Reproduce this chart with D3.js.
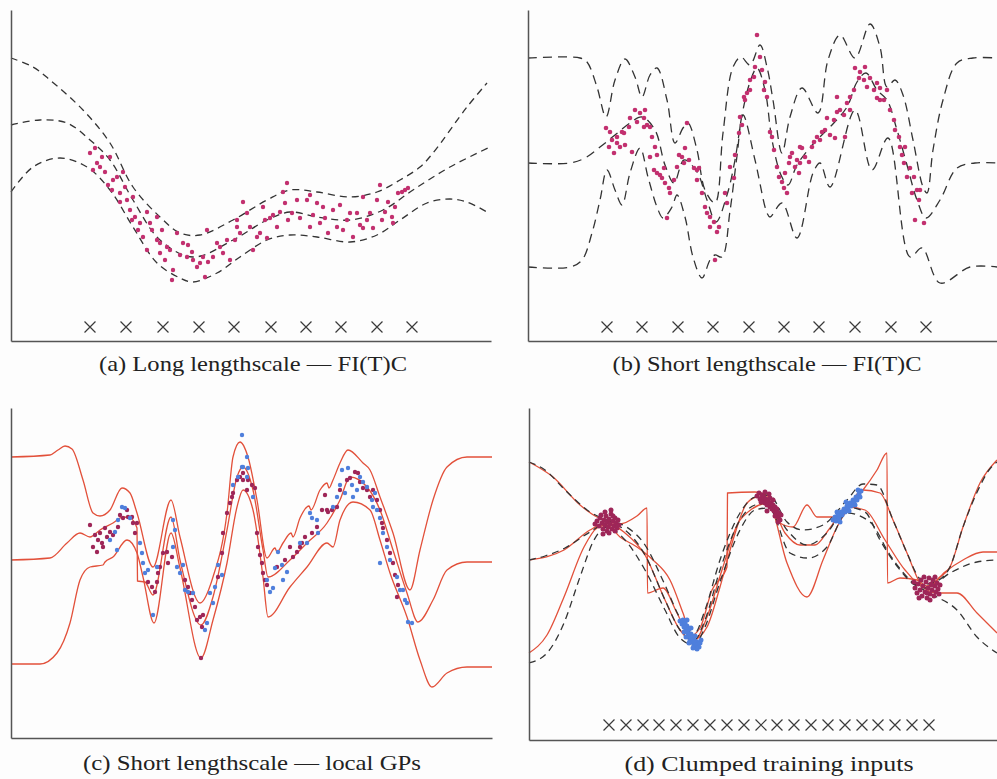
<!DOCTYPE html>
<html>
<head>
<meta charset="utf-8">
<script src="https://cdn.jsdelivr.net/npm/d3@7"></script>
<style>
  body { margin: 0; background: #fdfdfd; }
  svg { display: block; }
</style>
</head>
<body>
<svg width="997" height="779"></svg>
<script>

// (a) long lengthscale, FI(T)C
const aMean = [[0,216],[29,221],[56,218],[79,201],[99,181],[122,141],[149,101],[182,84],[222,101],[256,121],[279,129],[306,124],[339,121],[372,131],[402,151],[439,174],[479,194]];
const aUpper = [[0,283],[22,274],[39,261],[72,231],[99,198],[122,154],[149,124],[169,108],[189,106],[222,121],[256,141],[279,151],[306,149],[339,144],[366,149],[389,161],[409,174],[422,188],[456,234],[476,258]];
const aLower = [[0,149],[22,174],[49,183],[76,174],[99,151],[122,114],[146,78],[169,63],[182,59],[206,68],[229,84],[256,101],[279,106],[306,104],[339,99],[366,106],[389,121],[416,138],[439,142],[456,139],[476,129]];
const aDots = [[79,188],[84,193],[86,178],[82,171],[91,184],[99,184],[94,169],[102,161],[106,164],[101,151],[109,148],[112,169],[114,154],[109,139],[119,131],[124,124],[121,121],[129,118],[127,111],[132,104],[139,118],[146,124],[141,111],[151,111],[149,98],[156,94],[159,91],[154,81],[166,108],[169,86],[172,98],[177,96],[176,84],[182,81],[186,74],[189,78],[181,89],[192,84],[194,64],[197,79],[206,98],[202,84],[209,94],[212,88],[216,101],[219,81],[224,101],[226,121],[229,108],[232,139],[236,128],[239,114],[242,91],[246,104],[249,108],[254,121],[252,134],[256,103],[259,123],[262,126],[266,114],[269,129],[272,149],[274,138],[277,121],[281,128],[286,141],[289,123],[296,141],[299,146],[302,126],[306,138],[309,118],[314,123],[317,108],[322,131],[326,114],[329,136],[332,111],[336,121],[339,128],[342,104],[346,128],[349,116],[352,144],[356,121],[359,128],[362,113],[366,141],[369,156],[371,121],[374,129],[377,139],[381,124],[384,134],[387,148],[391,149],[394,151],[397,153],[382,118],[352,113],[276,158],[299,114],[312,134],[226,114],[196,111],[162,71],[161,61],[149,88],[136,91],[116,141],[122,144],[89,174],[97,156],[136,129],[146,101]];
const aCrosses = [79,115,152,188,223,260,295,330,366,401];

// (b) short lengthscale, FI(T)C
const bMean = [[0,178],[42,178],[57,183],[72,194],[87,206],[102,218],[114,224],[127,211],[137,176],[146,158],[156,181],[169,169],[179,141],[188,119],[199,146],[207,181],[214,226],[222,259],[229,273],[237,251],[244,201],[253,166],[260,156],[269,176],[286,198],[302,214],[319,234],[329,259],[338,268],[349,251],[359,241],[369,211],[379,176],[389,141],[398,123],[412,141],[429,173],[447,178],[469,178]];
const bUpper = [[0,283],[52,283],[59,279],[69,254],[78,224],[87,261],[97,282],[107,264],[114,244],[122,266],[129,273],[139,241],[147,198],[155,213],[160,218],[169,191],[177,151],[187,138],[195,208],[205,274],[213,284],[222,276],[232,296],[239,274],[245,241],[254,188],[262,224],[274,253],[290,228],[300,281],[312,306],[327,283],[342,317],[352,294],[359,254],[367,261],[375,246],[385,201],[395,154],[399,148],[405,191],[415,241],[429,278],[445,283],[469,283]];
const bLower = [[0,74],[42,74],[54,81],[64,108],[72,141],[79,171],[87,151],[94,136],[102,168],[112,193],[120,164],[129,134],[135,123],[144,134],[149,146],[157,124],[165,84],[174,63],[182,81],[187,86],[194,84],[202,130],[209,185],[215,226],[227,181],[239,128],[242,124],[254,138],[269,103],[285,168],[292,178],[302,154],[327,231],[344,171],[360,203],[382,84],[394,93],[412,58],[442,74],[469,74]];
const bDots = [[78,213],[81,194],[84,201],[86,188],[89,204],[92,194],[96,208],[97,196],[94,209],[101,214],[102,223],[104,189],[107,231],[109,219],[112,228],[116,223],[117,231],[119,216],[122,214],[124,204],[127,194],[129,186],[126,171],[132,166],[134,163],[136,173],[137,158],[141,153],[139,123],[142,148],[146,161],[151,186],[154,184],[156,178],[157,193],[159,218],[161,181],[166,173],[169,161],[171,173],[174,148],[177,134],[179,128],[182,114],[186,119],[189,109],[191,114],[187,81],[197,148],[199,138],[202,174],[206,163],[207,186],[211,208],[212,224],[214,216],[216,244],[219,248],[222,261],[226,264],[227,274],[229,306],[232,284],[234,271],[236,251],[237,259],[239,244],[242,209],[244,204],[246,191],[249,174],[251,164],[254,159],[256,153],[259,148],[257,168],[261,178],[264,188],[267,174],[269,181],[271,168],[272,178],[274,193],[277,184],[281,179],[284,194],[286,199],[289,204],[292,201],[294,209],[297,211],[299,223],[302,206],[306,221],[309,229],[312,231],[316,226],[317,204],[319,238],[322,244],[326,251],[327,273],[331,263],[332,269],[336,261],[337,274],[339,254],[342,263],[346,251],[349,258],[352,253],[356,241],[359,251],[362,231],[366,221],[367,211],[371,204],[372,194],[374,186],[377,194],[379,164],[382,173],[384,148],[386,164],[389,151],[391,141],[392,151],[387,121],[396,118],[352,241],[349,243],[322,231],[307,203],[272,194],[262,184],[222,251],[217,241],[182,124],[169,171],[149,174],[129,168],[122,184],[116,214],[89,198],[82,209],[309,244],[376,178]];
const bCrosses = [79,114,150,185,221,256,291,327,363,398];

// (c) short lengthscale, local GPs
const cUpper = [[0,281],[39,283],[47,288],[54,292],[61,289],[72,258],[82,225],[89,222],[99,228],[111,250],[119,245],[126,225],[142,171],[160,238],[169,201],[189,135],[202,161],[216,225],[222,281],[229,296],[237,281],[246,238],[256,180],[264,190],[266,186],[272,195],[280,205],[282,201],[289,220],[298,232],[300,228],[309,248],[316,255],[318,250],[322,258],[329,275],[337,288],[352,275],[359,268],[369,241],[382,205],[399,148],[409,188],[422,238],[436,271],[456,281],[481,281]];
const cMean = [[0,178],[39,180],[56,195],[69,205],[79,201],[89,208],[102,215],[112,221],[119,220],[126,210],[126.5,157],[134,156],[142,143],[160,221],[169,178],[190,113],[202,141],[216,208],[226,261],[232,271],[242,248],[252,188],[257,161],[279,178],[296,195],[316,215],[329,238],[339,261],[356,251],[369,228],[382,188],[396,145],[407,116],[422,138],[436,168],[456,176],[481,176]];
const cLower = [[0,74],[29,74],[46,85],[59,115],[69,158],[79,171],[92,173],[94,176],[102,181],[116,198],[126,185],[132,161],[143,115],[160,205],[169,170],[190,80],[202,118],[216,175],[226,231],[232,248],[242,228],[252,161],[257,121],[279,151],[296,171],[316,195],[322,191],[329,218],[342,236],[359,228],[369,198],[379,165],[396,121],[409,78],[421,51],[436,65],[456,71],[481,71]];
const cRedDots = [[79,213],[82,191],[84,203],[86,186],[87,198],[89,205],[91,195],[92,191],[94,210],[96,201],[99,206],[102,203],[107,211],[109,223],[112,220],[116,228],[117,221],[121,221],[122,215],[124,205],[126,215],[137,156],[141,151],[144,146],[146,156],[147,165],[149,171],[152,185],[156,186],[157,175],[161,181],[174,158],[177,151],[179,145],[181,138],[184,131],[186,118],[189,121],[191,111],[192,123],[190,80],[207,161],[211,185],[212,205],[216,225],[219,235],[221,241],[222,245],[226,258],[229,261],[232,265],[237,258],[232,258],[236,248],[241,253],[244,250],[246,205],[247,191],[249,183],[251,175],[252,165],[254,158],[256,153],[266,171],[274,178],[279,191],[282,181],[286,186],[289,191],[291,195],[294,201],[301,205],[306,211],[311,228],[314,243],[316,228],[317,226],[321,228],[326,231],[329,248],[336,258],[339,260],[344,266],[347,265],[349,256],[352,250],[356,248],[359,241],[362,248],[366,238],[369,228],[371,215],[372,210],[376,198],[379,185],[382,175],[384,163],[386,141],[387,153]];
const cBlueDots = [[99,198],[104,206],[106,188],[107,218],[111,231],[114,230],[119,220],[129,195],[131,185],[132,175],[134,165],[137,168],[142,123],[146,171],[162,218],[164,208],[162,191],[166,171],[169,165],[172,173],[174,148],[177,146],[182,145],[194,108],[196,115],[199,145],[202,135],[204,151],[207,173],[211,163],[222,253],[227,261],[231,271],[231,303],[236,281],[237,270],[232,271],[236,261],[242,241],[256,158],[259,146],[262,150],[264,170],[267,186],[271,173],[272,158],[276,166],[289,195],[296,195],[299,225],[301,220],[306,218],[307,205],[322,231],[326,241],[329,253],[331,268],[334,245],[337,270],[341,253],[342,241],[346,248],[349,261],[352,256],[356,251],[361,238],[362,231],[364,245],[366,228],[369,220],[372,205],[376,191],[379,178],[386,161],[389,148],[392,148],[394,138],[396,135],[397,116],[401,115],[369,175]];

// (d) clumped training inputs
const dMean = [[0,180],[16,184],[36,192],[61,208],[78,217],[96,210],[116,185],[136,140],[151,110],[165,100],[176,120],[191,170],[211,220],[226,235],[240,237],[258,210],[278,195],[298,207],[318,233],[336,228],[351,200],[371,170],[386,155],[398,152],[421,167],[448,178],[468,180]];
const dUpper = [[0,278],[16,270],[36,250],[61,228],[78,220],[96,214],[116,195],[136,155],[151,122],[165,106],[176,130],[191,180],[211,227],[226,243],[240,245],[258,218],[274,210],[294,215],[318,240],[334,256],[348,255],[364,220],[378,187],[390,162],[398,156],[410,160],[421,173],[434,213],[451,254],[460,270],[468,278]];
const dLower = [[0,77],[18,87],[35,117],[51,163],[65,200],[78,213],[96,200],[116,170],[136,130],[151,102],[165,95],[176,113],[191,158],[211,210],[226,230],[240,232],[261,187],[279,182],[298,193],[318,227],[341,218],[361,185],[381,160],[398,148],[408,143],[428,130],[448,103],[468,87]];
const dRedUpper = [[0,278],[24,263],[51,235],[68,223],[78,219],[91,216],[108,224],[118,232],[118.5,147],[134,152],[148,127],[161,104],[171,112],[183,150],[198,173],[198.5,247],[226,248],[240,243],[251,217],[264,213],[278,235],[288,223],[308,223],[321,235],[334,250],[348,270],[358,287],[358.5,157],[371,162],[388,160],[398,154],[411,163],[421,173],[434,213],[451,257],[468,280]];
const dRedMean = [[0,180],[35,190],[61,210],[78,217],[96,207],[116,185],[136,140],[151,110],[165,99],[178,123],[193,170],[211,220],[240,237],[256,207],[271,195],[286,195],[301,212],[318,233],[336,230],[356,200],[376,170],[398,152],[416,168],[434,180],[454,188],[468,188]];
const dRedLower = [[0,87],[18,105],[35,143],[55,193],[68,212],[78,215],[91,203],[108,193],[124,180],[141,160],[154,127],[164,100],[178,113],[191,153],[204,200],[218,237],[229,243],[240,238],[258,177],[278,143],[294,180],[308,213],[318,230],[334,250],[351,247],[364,220],[378,187],[394,153],[408,147],[428,147],[448,127],[468,107]];
const dClumpRed = [[68,219],[70,214],[71,222],[73,217],[74,211],[75,220],[76,215],[77,224],[78,209],[78,218],[79,213],[80,221],[81,216],[82,226],[83,211],[84,219],[85,214],[86,222],[87,217],[88,212],[89,220],[72,225],[80,207],[76,228],[84,224],[90,215],[66,216],[82,230],[74,206],[86,209],
  [228,244],[230,247],[231,241],[233,245],[234,239],[235,243],[236,237],[237,241],[238,235],[239,239],[240,246],[241,233],[242,237],[243,231],[244,235],[245,229],[246,233],[247,227],[248,231],[249,223],[250,227],[251,220],[236,248],[241,242],[246,224],[232,238],[244,240],[249,218],[238,229],[252,225],
  [386,152],[388,147],[389,156],[391,150],[392,160],[393,144],[394,154],[396,148],[397,158],[398,142],[399,152],[400,162],[401,146],[402,156],[403,150],[404,160],[405,144],[406,154],[407,148],[408,157],[409,151],[410,146],[395,163],[401,140],[390,142],[406,163],[411,155],[385,158],[398,147],[403,155]];
const dClumpBlue = [[151,119],[153,116],[154,120],[155,113],[156,117],[157,110],[158,114],[159,107],[160,111],[160,104],[161,100],[162,106],[163,98],[164,102],[165,95],[166,99],[167,94],[168,98],[169,96],[170,93],[171,97],[158,120],[162,112],[166,104],[155,108],[164,92],[168,91],[160,97],[172,100],[157,103],
  [304,220],[306,223],[307,219],[309,225],[310,222],[312,228],[313,225],[315,231],[316,228],[318,234],[319,231],[321,237],[322,234],[324,240],[325,237],[327,243],[328,240],[330,246],[331,243],[332,249],[311,218],[320,229],[326,235],[317,238],[308,228],[329,250]];
const dCrosses = [80,97,114,130,147,164,181,198,215,232,248,265,282,299,316,333,349,366,383,400];

const captions = ["(a) Long lengthscale \u2014 FI(T)C", "(b) Short lengthscale \u2014 FI(T)C", "(c) Short lengthscale \u2014 local GPs", "(d) Clumped training inputs"];

const magenta = '#c2306f';
const darkMagenta = '#9e2658';
const blue = '#4f7fdc';
const red = '#e2503a';
const ink = '#333';

const svg = d3.select('svg');

const panels = [
  { left: 11, bottom: 341, w: 480, h: 331, cap: captions[0], capX: 253, capY: 371, capW: 308,
    dashed: [aUpper, aMean, aLower], dash: '7,5', curve: d3.curveCatmullRom,
    dots: [{ pts: aDots, color: magenta, r: 2.2 }], crosses: aCrosses, crossY: 14 },
  { left: 528, bottom: 341, w: 469, h: 331, cap: captions[1], capX: 767, capY: 371, capW: 309,
    dashed: [bUpper, bMean, bLower], dash: '9,6', curve: d3.curveCatmullRom,
    dots: [{ pts: bDots, color: magenta, r: 2.3 }], crosses: bCrosses, crossY: 14 },
  { left: 11, bottom: 738, w: 481, h: 330, cap: captions[2], capX: 252, capY: 770, capW: 338,
    solid: [cUpper, cMean, cLower], curve: d3.curveMonotoneX,
    dots: [{ pts: cRedDots, color: darkMagenta, r: 2.2 }, { pts: cBlueDots, color: blue, r: 2.2 }] },
  { left: 529, bottom: 740, w: 468, h: 332, cap: captions[3], capX: 769, capY: 771, capW: 289,
    solid: [dRedUpper, dRedMean, dRedLower], dashed: [dUpper, dMean, dLower], dash: '7,5', curve: d3.curveMonotoneX,
    dots: [{ pts: dClumpRed, color: darkMagenta, r: 2.5 }, { pts: dClumpBlue, color: blue, r: 2.5 }], crosses: dCrosses, crossY: 15 }
];

panels.forEach(p => {
  const x = d3.scaleLinear().domain([0, p.w]).range([p.left, p.left + p.w]);
  const y = d3.scaleLinear().domain([0, p.h]).range([p.bottom, p.bottom - p.h]);
  const g = svg.append('g');

  const line = d3.line().x(d => x(d[0])).y(d => y(d[1])).curve(p.curve);

  if (p.solid) {
    g.selectAll('.red').data(p.solid).enter().append('path')
      .attr('d', line).attr('fill', 'none')
      .attr('stroke', red).attr('stroke-width', 1.3);
  }
  if (p.dashed) {
    g.selectAll('.dash').data(p.dashed).enter().append('path')
      .attr('d', line).attr('fill', 'none')
      .attr('stroke', ink).attr('stroke-width', 1.3)
      .attr('stroke-dasharray', p.dash);
  }

  p.dots.forEach(set => {
    g.append('g').selectAll('circle').data(set.pts).enter().append('circle')
      .attr('cx', d => x(d[0])).attr('cy', d => y(d[1]))
      .attr('r', set.r).attr('fill', set.color);
  });

  if (p.crosses) {
    g.selectAll('.cross').data(p.crosses).enter().append('path')
      .attr('d', d3.symbol().type(d3.symbolTimes).size(80))
      .attr('transform', d => `translate(${x(d)},${y(p.crossY)})`)
      .attr('fill', 'none').attr('stroke', '#3a3a3a').attr('stroke-width', 1.2);
  }

  const xa = g.append('g').attr('transform', `translate(0,${p.bottom})`)
    .call(d3.axisBottom(x).tickValues([]).tickSizeOuter(0));
  const ya = g.append('g').attr('transform', `translate(${p.left},0)`)
    .call(d3.axisLeft(y).tickValues([]).tickSizeOuter(0));
  [xa, ya].forEach(a => a.select('.domain').attr('stroke', '#555').attr('stroke-width', 1.5));

  g.append('text')
    .attr('x', p.capX).attr('y', p.capY)
    .attr('text-anchor', 'middle')
    .attr('textLength', p.capW).attr('lengthAdjust', 'spacingAndGlyphs')
    .style('font-family', "'Liberation Serif', 'DejaVu Serif', serif")
    .attr('font-size', 22).attr('fill', '#222')
    .text(p.cap);
});
</script>
</body>
</html>
